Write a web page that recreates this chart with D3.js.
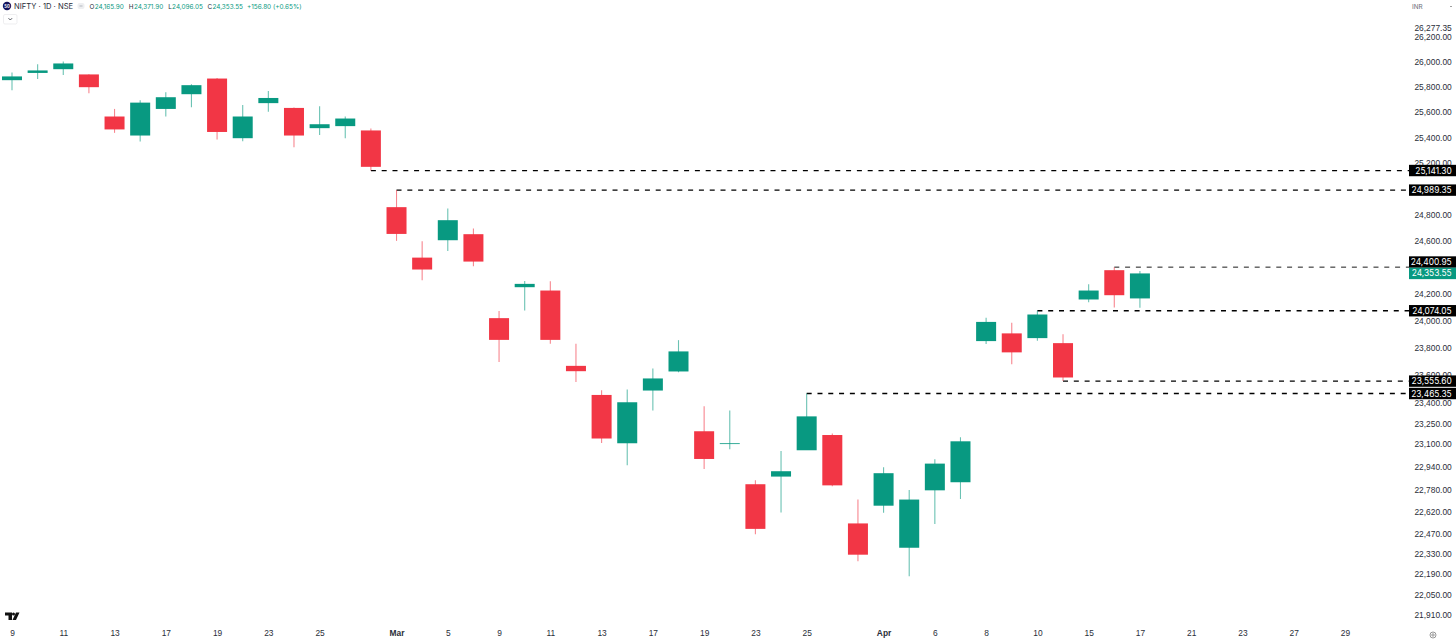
<!DOCTYPE html>
<html>
<head>
<meta charset="utf-8">
<script src="https://d3js.org/d3.v7.min.js"></script>
<style>
  html, body { margin: 0; padding: 0; background: #fff; }
  svg { display: block; font-family: Inter, Roboto, sans-serif; }
  .axis text { fill: #2a2e39; font-size: 8.4px; }
  .axis .month text { font-weight: 700; }
</style>
</head>
<body>
<div id="chart"></div>
<script>
// trading days, the last ones are empty space on the right of the chart
var days = ["Feb 9","Feb 10","Feb 11","Feb 12","Feb 13","Feb 16","Feb 17","Feb 18","Feb 19","Feb 20",
    "Feb 23","Feb 24","Feb 25","Feb 26","Feb 27","Mar 2","Mar 4","Mar 5","Mar 6","Mar 9",
    "Mar 10","Mar 11","Mar 12","Mar 13","Mar 16","Mar 17","Mar 18","Mar 19","Mar 20","Mar 23",
    "Mar 24","Mar 25","Mar 27","Mar 30","Apr 1","Apr 2","Apr 6","Apr 7","Apr 8","Apr 9",
    "Apr 10","Apr 13","Apr 15","Apr 16","Apr 17","Apr 20","Apr 21","Apr 22","Apr 23","Apr 24",
    "Apr 27","Apr 28","Apr 29"];

var open  = [25854,25912,25942,25900,25565,25415,25625,25742,25867,25394,25671,25633,25473,25489,25455,
    24858,24473,24605,24651,24019,24250,24225,23667,23455,23107,23487,23626,23193,23102,22816,
    22870,23057,23166,22541,22665,22372,22773,22830,23849,23906,23871,23834,24158,24378,24165.90];
var high  = [25916,25982,26004,25902,25625,25694,25758,25822,25872,25657,25768,25636,25647,25565,25470,
    24989.35,24597,24848,24694,24073,24297,24295,23829,23489,23495,23648,23856,23373,23342,22844,
    23052,23465.35,23176,22708,22936,22775,22993,23150,24021,23984,24074.05,23900,24273,24400.95,24371.90];
var low   = [25774,25864,25896,25750,25436,25368,25565,25639,25384,25370,25602,25323,25420,25394,25141.30,
    24600,24303,24523,24408,23696,24076,23829,23550,23109,22950,23342,23620,22924,23064,22465,
    22618,23059,22801,22278,22616,22175,22537,22712,23827,23679,23851,23555.60,24138,24098,24096.05];
var close = [25884,25932,25988,25798,25463,25675,25718,25814,25443,25565,25712,25415,25504,25549,25170,
    24653,24383,24758,24443,23858,24275,23858,23628,23141,23402,23575,23773,22995,23107,22503,
    22908,23300,22808,22324,22894,22708,22962,23121,23991,23766,24046,23582,24225,24190,24353.55];

var priceTicks = [26277.35,26200,26000,25800,25600,25400,25200,24800,24600,24200,24000,23800,23600,23400,
    23250,23100,22940,22780,22620,22470,22330,22190,22050,21910];
var dayTicks = ["Feb 9","Feb 11","Feb 13","Feb 17","Feb 19","Feb 23","Feb 25","Mar 2","Mar 5","Mar 9","Mar 11",
    "Mar 13","Mar 17","Mar 19","Mar 23","Mar 25","Apr 1","Apr 6","Apr 8","Apr 10","Apr 15","Apr 17",
    "Apr 21","Apr 23","Apr 27","Apr 29"];
var monthTicks = ["Mar 2","Apr 1"];
var monthNames = ["Mar","Apr"];

// horizontal levels and the day each one starts from
var levelPrices = [25141.30,24989.35,24400.95,24074.05,23555.60,23465.35];
var levelDays = ["Feb 27","Mar 2","Apr 16","Apr 10","Apr 13","Mar 25"];

var lastClose = 24353.55;
var legendLabels = ["O","H","L","C"];
var legendValues = [24165.90,24371.90,24096.05,24353.55];
var legendChange = "+156.80 (+0.65%)";

var width = 1456, height = 643;
var up = "#089981", down = "#f23645";
var tagHeight = 11.4;

var svg = d3.select("#chart").append("svg")
    .attr("width", width)
    .attr("height", height);

var x = d3.scalePoint().domain(days).range([12, 1345]);
var y = d3.scaleLog().domain([21910, 26200]).range([615.2, 37.2]);
var fmt = d3.format(",.2f");

// y axis
svg.append("g")
    .attr("class", "axis")
    .attr("transform", "translate(1451.7,0)")
    .call(d3.axisLeft(y).tickValues(priceTicks).tickSize(0).tickPadding(0).tickFormat(fmt))
    .call(function(g) { g.select(".domain").remove(); });

// x axis
svg.append("g")
    .attr("class", "axis")
    .attr("transform", "translate(0,630)")
    .call(d3.axisBottom(x).tickValues(dayTicks).tickSize(0).tickPadding(0)
        .tickFormat(function(d) {
            var i = monthTicks.indexOf(d);
            return i >= 0 ? monthNames[i] : d.split(" ")[1];
        }))
    .call(function(g) {
        g.select(".domain").remove();
        g.selectAll(".tick").classed("month", function(d) { return monthTicks.indexOf(d) >= 0; });
    });

// dashed levels
svg.append("g").selectAll("line")
    .data(levelPrices)
    .enter().append("line")
    .attr("x1", function(d, i) { return x(levelDays[i]); })
    .attr("x2", 1409)
    .attr("y1", function(d) { return y(d); })
    .attr("y2", function(d) { return y(d); })
    .attr("stroke", "#000")
    .attr("stroke-width", function(d) { return d === 24400.95 ? 0.9 : 1.3; })
    .attr("stroke-dasharray", "5 5.8");

// candles
var candles = svg.append("g").selectAll("g")
    .data(open)
    .enter().append("g");

function color(d, i) { return close[i] >= d ? up : down; }

candles.append("line")
    .attr("x1", function(d, i) { return x(days[i]); })
    .attr("x2", function(d, i) { return x(days[i]); })
    .attr("y1", function(d, i) { return y(high[i]); })
    .attr("y2", function(d, i) { return y(low[i]); })
    .attr("stroke", color)
    .attr("stroke-opacity", 0.6)
    .attr("stroke-width", 1.1);

candles.append("rect")
    .attr("x", function(d, i) { return x(days[i]) - 10; })
    .attr("width", 20)
    .attr("y", function(d, i) { return y(Math.max(d, close[i])); })
    .attr("height", function(d, i) { return Math.max(0.8, Math.abs(y(d) - y(close[i]))); })
    .attr("fill", color);

// price tags on the axis, a tag touching the last price tag gets pushed up above it
function tagY(d) {
    if (d !== lastClose && d > lastClose && y(lastClose) - y(d) < tagHeight) {
        return y(lastClose) - tagHeight;
    }
    return y(d);
}

var tags = svg.append("g").selectAll("g")
    .data(levelPrices.concat([lastClose]))
    .enter().append("g")
    .attr("transform", function(d) { return "translate(1409," + tagY(d) + ")"; });

tags.append("rect")
    .attr("y", -tagHeight / 2)
    .attr("width", 47)
    .attr("height", tagHeight)
    .attr("fill", function(d) { return d === lastClose ? up : "#000"; });

tags.append("text")
    .attr("x", 42.7)
    .attr("dy", "0.36em")
    .attr("text-anchor", "end")
    .attr("font-size", 8.4)
    .attr("fill", "#fff")
    .text(fmt);

// legend at the top left
var legend = svg.append("g");

legend.append("circle").attr("cx", 7).attr("cy", 6).attr("r", 4.2).attr("fill", "#14145c");
legend.append("text").attr("x", 7).attr("y", 7.6)
    .attr("text-anchor", "middle").attr("font-size", 4.2).attr("font-weight", 700).attr("fill", "#fff").text("50");
legend.append("text").attr("x", 14).attr("y", 9.3)
    .attr("font-size", 7.6).attr("fill", "#2a2e39").text("NIFTY · 1D · NSE");
legend.append("rect").attr("x", 77.5).attr("y", 3).attr("width", 7).attr("height", 6).attr("rx", 2).attr("fill", "#eeeff1");
legend.append("line").attr("x1", 79.5).attr("x2", 82.5).attr("y1", 6).attr("y2", 6).attr("stroke", "#9aa0ab").attr("stroke-width", 0.7);

var legendX = d3.scaleLinear().domain([0, 3]).range([89.5, 207.5]);
legendValues.forEach(function(v, i) {
    var t = legend.append("text").attr("x", legendX(i)).attr("y", 8.8).attr("font-size", 6.4);
    t.append("tspan").attr("fill", "#2a2e39").text(legendLabels[i]);
    t.append("tspan").attr("fill", up).attr("dx", 0.3).text(fmt(v));
});
legend.append("text").attr("x", 247).attr("y", 8.8).attr("font-size", 6.4).attr("fill", up).text(legendChange);

// collapse button
legend.append("rect").attr("x", 3.5).attr("y", 14.5).attr("width", 13.5).attr("height", 9.5).attr("rx", 1.5)
    .attr("fill", "#fff").attr("stroke", "#e6e7ea").attr("stroke-width", 0.7);
legend.append("path").attr("d", "M8.5 18.2 L10.3 20 L12.1 18.2").attr("fill", "none")
    .attr("stroke", "#2a2e39").attr("stroke-width", 0.8);

// currency button
svg.append("text").attr("x", 1412).attr("y", 9).attr("font-size", 6.4).attr("fill", "#6a6d78").text("INR");
svg.append("line").attr("x1", 1450).attr("x2", 1452).attr("y1", 6.5).attr("y2", 6.5).attr("stroke", "#777").attr("stroke-width", 0.7);

// settings icon at the bottom right
svg.append("circle").attr("cx", 1433).attr("cy", 635).attr("r", 3).attr("fill", "none").attr("stroke", "#555").attr("stroke-width", 0.6);
svg.append("circle").attr("cx", 1433).attr("cy", 635).attr("r", 1.2).attr("fill", "none").attr("stroke", "#555").attr("stroke-width", 0.6);

// tradingview logo
svg.append("path").attr("d", "M5 612.5 H12 V620 H8.5 V615.5 H5 Z").attr("fill", "#111");
svg.append("circle").attr("cx", 13.5).attr("cy", 614).attr("r", 1.5).attr("fill", "#111");
svg.append("path").attr("d", "M16 612.5 H19.5 L16 620 H12.5 Z").attr("fill", "#111");
</script>
</body>
</html>
